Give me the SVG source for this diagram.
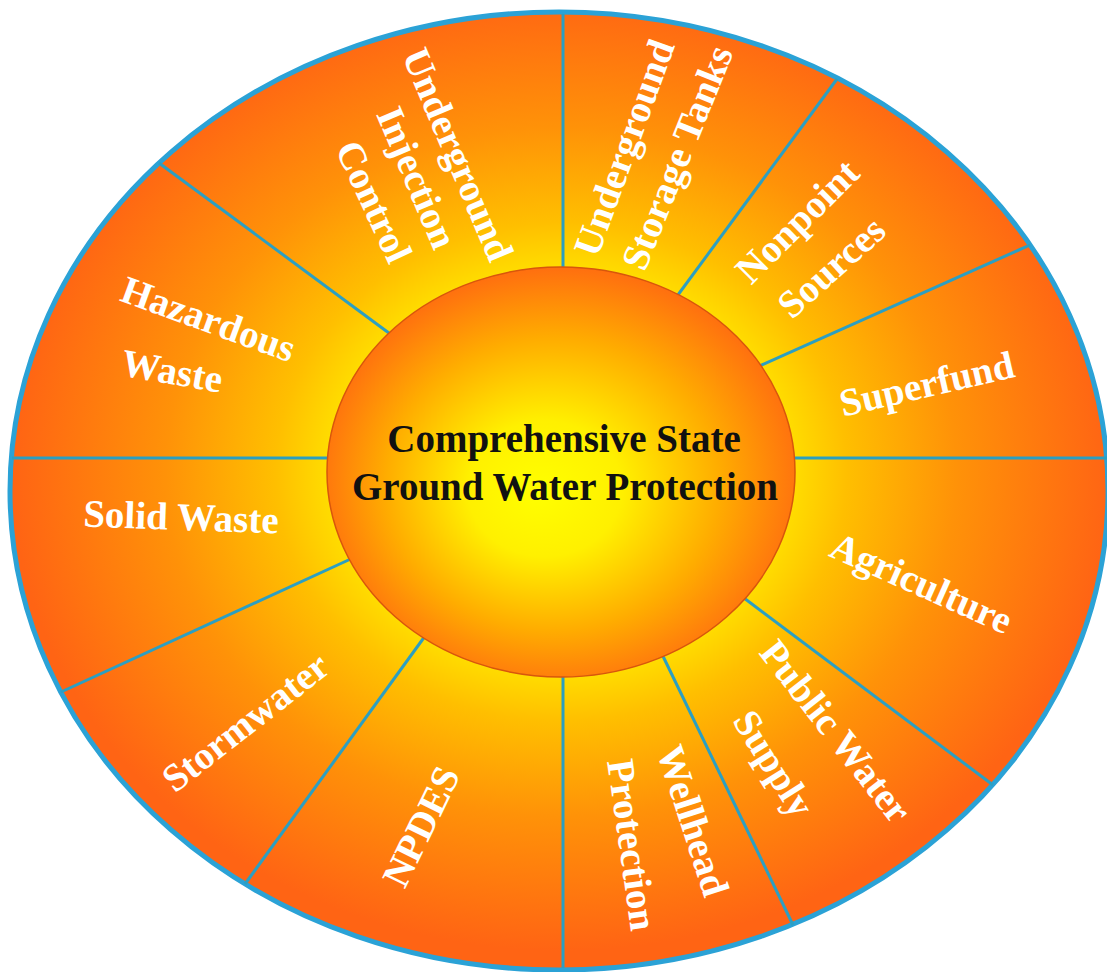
<svg xmlns="http://www.w3.org/2000/svg" width="1107" height="972" viewBox="0 0 1107 972">
  <defs>
    <radialGradient id="ringGrad" cx="0.502" cy="0.48" r="0.5" fx="0.502" fy="0.48">
      <stop offset="0.40" stop-color="#ffe400"/>
      <stop offset="0.52" stop-color="#ffbf00"/>
      <stop offset="0.72" stop-color="#ff9208"/>
      <stop offset="1" stop-color="#ff6414"/>
    </radialGradient>
    <radialGradient id="hubGrad" cx="0.5" cy="0.52" r="0.55" fx="0.45" fy="0.55">
      <stop offset="0" stop-color="#ffff00"/>
      <stop offset="0.3" stop-color="#fff000"/>
      <stop offset="0.65" stop-color="#ffac00"/>
      <stop offset="1" stop-color="#ff6412"/>
    </radialGradient>
  </defs>
  <style>
    .divider { stroke: #2c9fc2; stroke-width: 3; fill: none; }
    .lbl { font-family: "Liberation Serif", "Times New Roman", serif; font-weight: bold; font-size: 39px; fill: #ffffff; text-anchor: middle; }
    .hub { font-family: "Liberation Serif", "Times New Roman", serif; font-weight: bold; font-size: 39px; fill: #111111; text-anchor: middle; }
  </style>
  <rect width="1107" height="972" fill="#ffffff"/>
  <g id="outer-ring">
    <ellipse cx="559" cy="491" rx="549" ry="479" fill="url(#ringGrad)" stroke="#2ba2d6" stroke-width="5"/>
  </g>
  <g id="connectors">
    <line class="divider" x1="563" y1="14" x2="563" y2="280"/>
    <line class="divider" x1="837" y1="79" x2="672" y2="303"/>
    <line class="divider" x1="1030" y1="245" x2="755" y2="368"/>
    <line class="divider" x1="1107" y1="458" x2="780" y2="458"/>
    <line class="divider" x1="993" y1="785" x2="740" y2="595"/>
    <line class="divider" x1="793" y1="925" x2="660" y2="650"/>
    <line class="divider" x1="563" y1="968" x2="563" y2="665"/>
    <line class="divider" x1="245" y1="884" x2="428" y2="632"/>
    <line class="divider" x1="61" y1="692" x2="355" y2="557"/>
    <line class="divider" x1="12" y1="458" x2="340" y2="458"/>
    <line class="divider" x1="159" y1="163" x2="397" y2="339"/>
  </g>
  <g id="hub">
    <ellipse cx="561" cy="472" rx="234" ry="205" fill="url(#hubGrad)" stroke="#d8560c" stroke-width="1.5"/>
    <text class="hub" x="564" y="452">Comprehensive State</text>
    <text class="hub" x="565" y="500">Ground Water Protection</text>
  </g>
  <g id="underground-injection-control">
    <text class="lbl" transform="translate(457,155) rotate(67)" y="12">Underground</text>
    <text class="lbl" transform="translate(416,178) rotate(67)" y="12">Injection</text>
    <text class="lbl" transform="translate(373,202) rotate(65)" y="12">Control</text>
  </g>
  <g id="underground-storage-tanks">
    <text class="lbl" transform="translate(625,148) rotate(-70)" y="12">Underground</text>
    <text class="lbl" transform="translate(678,158) rotate(-68)" y="12">Storage Tanks</text>
  </g>
  <g id="nonpoint-sources">
    <text class="lbl" transform="translate(798,222) rotate(-45)" y="12">Nonpoint</text>
    <text class="lbl" transform="translate(832,268) rotate(-42)" y="12">Sources</text>
  </g>
  <g id="superfund">
    <text class="lbl" transform="translate(927,385) rotate(-13)" y="12">Superfund</text>
  </g>
  <g id="agriculture">
    <text class="lbl" transform="translate(921,584) rotate(24)" y="12">Agriculture</text>
  </g>
  <g id="public-water-supply">
    <text class="lbl" transform="translate(835,732) rotate(52)" y="12">Public Water</text>
    <text class="lbl" transform="translate(773,764) rotate(58)" y="12">Supply</text>
  </g>
  <g id="wellhead-protection">
    <text class="lbl" transform="translate(692,821) rotate(72)" y="12">Wellhead</text>
    <text class="lbl" transform="translate(631,845) rotate(82)" y="12">Protection</text>
  </g>
  <g id="npdes">
    <text class="lbl" transform="translate(422,827) rotate(-64)" y="12">NPDES</text>
  </g>
  <g id="stormwater">
    <text class="lbl" transform="translate(246,723) rotate(-38)" y="12">Stormwater</text>
  </g>
  <g id="solid-waste">
    <text class="lbl" transform="translate(181,518) rotate(2)" y="12">Solid Waste</text>
  </g>
  <g id="hazardous-waste">
    <text class="lbl" transform="translate(208,320) rotate(20)" y="12">Hazardous</text>
    <text class="lbl" transform="translate(172,372) rotate(10)" y="12">Waste</text>
  </g>
</svg>
